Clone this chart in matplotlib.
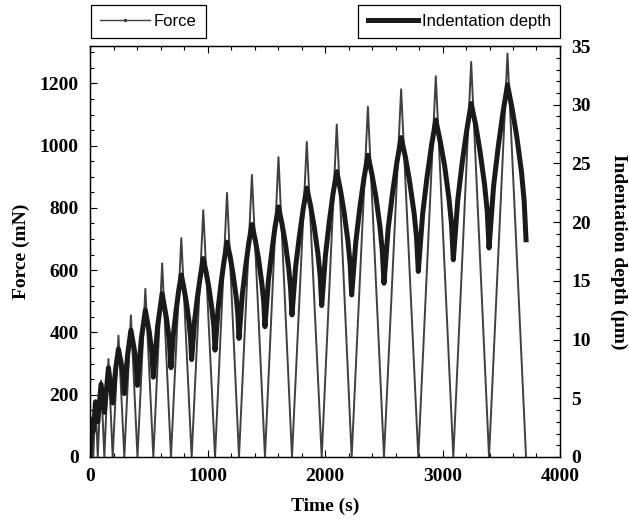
import numpy as np
import matplotlib
matplotlib.use("Agg")
import matplotlib.pyplot as plt
from matplotlib.lines import Line2D
from matplotlib.ticker import MultipleLocator

plt.rcParams["font.family"] = "serif"
plt.rcParams["font.serif"] = ["Liberation Serif", "DejaVu Serif"]
plt.rcParams["font.weight"] = "bold"

# force: triangular load cycles (time s, force mN) read at minima and peaks
force_t = [0, 14, 28, 47, 66, 94, 122, 157, 193, 242, 292, 348, 404, 471, 539,
           614, 689, 777, 865, 964, 1064, 1166, 1268, 1378, 1489, 1604, 1719,
           1845, 1972, 2100, 2227, 2365, 2502, 2648, 2794, 2943, 3092, 3244,
           3396, 3553, 3711]
force_mn = [0, 110, 0, 180, 0, 245, 0, 315, 0, 390, 0, 455, 0, 540, 0,
            622, 0, 703, 0, 793, 0, 848, 0, 906, 0, 963, 0,
            1012, 0, 1068, 0, 1125, 0, 1181, 0, 1223, 0, 1269,
            0, 1296, 0]

# indentation depth (time s, depth um)
depth_t = [0, 14, 28, 47, 66, 94, 122, 157, 193,
           218, 242, 267, 282, 292,
           320, 348, 376, 393, 404,
           437, 471, 505, 525, 539,
           576, 614, 651, 674, 689,
           711, 733, 755, 777, 799, 821, 843, 856, 865,
           890, 914, 939, 964, 989, 1014, 1039, 1054, 1064,
           1090, 1115, 1141, 1166, 1192, 1217, 1243, 1258, 1268,
           1296, 1323, 1351, 1378, 1406, 1434, 1461, 1478, 1489,
           1518, 1546, 1575, 1604, 1633, 1661, 1690, 1707, 1719,
           1750, 1782, 1814, 1845, 1877, 1908, 1940, 1959, 1972,
           2004, 2036, 2068, 2100, 2132, 2163, 2195, 2214, 2227,
           2262, 2296, 2331, 2365, 2399, 2434, 2468, 2488, 2502,
           2538, 2575, 2612, 2648, 2685, 2721, 2758, 2779, 2794,
           2831, 2868, 2906, 2943, 2980, 3018, 3055, 3077, 3092,
           3130, 3168, 3206, 3244, 3282, 3320, 3358, 3381, 3396,
           3435, 3474, 3514, 3553, 3592, 3632, 3672, 3695, 3711]
depth_um = [0, 3.2, 2.2, 4.7, 3.0, 6.2, 3.8, 7.6, 4.6,
            7.5, 9.2, 7.9, 6.8, 5.4,
            8.7, 10.8, 9.2, 7.9, 6.1,
            10.1, 12.5, 10.6, 9.0, 6.8,
            11.2, 13.9, 11.8, 10.0, 7.6,
            10.6, 12.5, 14.2, 15.5, 14.4, 13.1, 11.5, 10.1, 8.3,
            11.6, 13.6, 15.4, 16.9, 15.7, 14.3, 12.5, 11.1, 9.1,
            12.6, 14.8, 16.7, 18.3, 17.1, 15.6, 13.7, 12.2, 10.1,
            13.8, 16.1, 18.2, 19.8, 18.5, 16.9, 14.9, 13.3, 11.1,
            15.0, 17.4, 19.6, 21.3, 19.9, 18.3, 16.2, 14.4, 12.1,
            16.2, 18.8, 21.1, 22.9, 21.4, 19.6, 17.3, 15.4, 12.9,
            17.2, 20.0, 22.4, 24.3, 22.7, 20.8, 18.4, 16.4, 13.8,
            18.3, 21.2, 23.7, 25.7, 24.1, 22.1, 19.6, 17.5, 14.8,
            19.5, 22.5, 25.1, 27.2, 25.5, 23.4, 20.8, 18.7, 15.8,
            20.7, 23.8, 26.5, 28.7, 26.9, 24.8, 22.0, 19.8, 16.8,
            21.9, 25.1, 27.8, 30.1, 28.3, 26.0, 23.2, 20.9, 17.8,
            23.1, 26.4, 29.3, 31.7, 29.7, 27.3, 24.3, 21.8, 18.5]

fig = plt.figure(figsize=(6.29, 5.23), dpi=100)
ax = fig.add_axes([0.1431, 0.1262, 0.7472, 0.7858])
ax2 = ax.twinx()

ax.plot(force_t, force_mn, color="#404040", lw=1.4)
ax2.plot(depth_t, depth_um, color="#1a1a1a", lw=3.6, solid_joinstyle="round")

ax.set_xlim(0, 4000)
ax.set_ylim(0, 1320)
ax2.set_ylim(0, 35)

ax.xaxis.set_major_locator(MultipleLocator(1000))
ax.xaxis.set_minor_locator(MultipleLocator(200))
ax.yaxis.set_major_locator(MultipleLocator(200))
ax.yaxis.set_minor_locator(MultipleLocator(50))
ax2.yaxis.set_major_locator(MultipleLocator(5))
ax2.yaxis.set_minor_locator(MultipleLocator(1))

ax.tick_params(which="both", direction="in", top=True, right=False,
               labelsize=14, pad=8, width=0.8)
ax.tick_params(which="major", length=5)
ax.tick_params(which="minor", length=3)
ax2.tick_params(which="both", direction="in", labelsize=14, pad=8, width=0.8)
ax2.tick_params(which="major", length=5)
ax2.tick_params(which="minor", length=3)

for a in (ax, ax2):
    for s in a.spines.values():
        s.set_linewidth(0.9)

ax.set_xlabel("Time (s)", fontsize=14, fontweight="bold", labelpad=9)
ax.set_ylabel("Force (mN)", fontsize=14, fontweight="bold", labelpad=7)
ax2.set_ylabel("Indentation depth (\u00b5m)", fontsize=14, fontweight="bold",
               rotation=270, labelpad=26)

# legend handles
h_force = Line2D([], [], color="#404040", lw=1.0, marker=".", ms=3)
h_depth = Line2D([], [], color="#1a1a1a", lw=3.6)

legfont = {"family": "Liberation Sans", "weight": "normal", "size": 12}
leg1 = fig.legend(handles=[h_force], labels=["Force"], loc="lower left",
                  bbox_to_anchor=(0.1442, 0.927), fancybox=False,
                  edgecolor="black", framealpha=1, prop=legfont,
                  handlelength=3.0, handletextpad=0.25, borderpad=0.55,
                  borderaxespad=0)
leg1.get_frame().set_linewidth(0.9)
leg2 = fig.legend(handles=[h_depth], labels=["Indentation depth"],
                  loc="lower right",
                  bbox_to_anchor=(0.8903, 0.927), fancybox=False,
                  edgecolor="black", framealpha=1, prop=legfont,
                  handlelength=3.0, handletextpad=0.25, borderpad=0.55,
                  borderaxespad=0)
leg2.get_frame().set_linewidth(0.9)

fig.savefig("out.png", dpi=100)
